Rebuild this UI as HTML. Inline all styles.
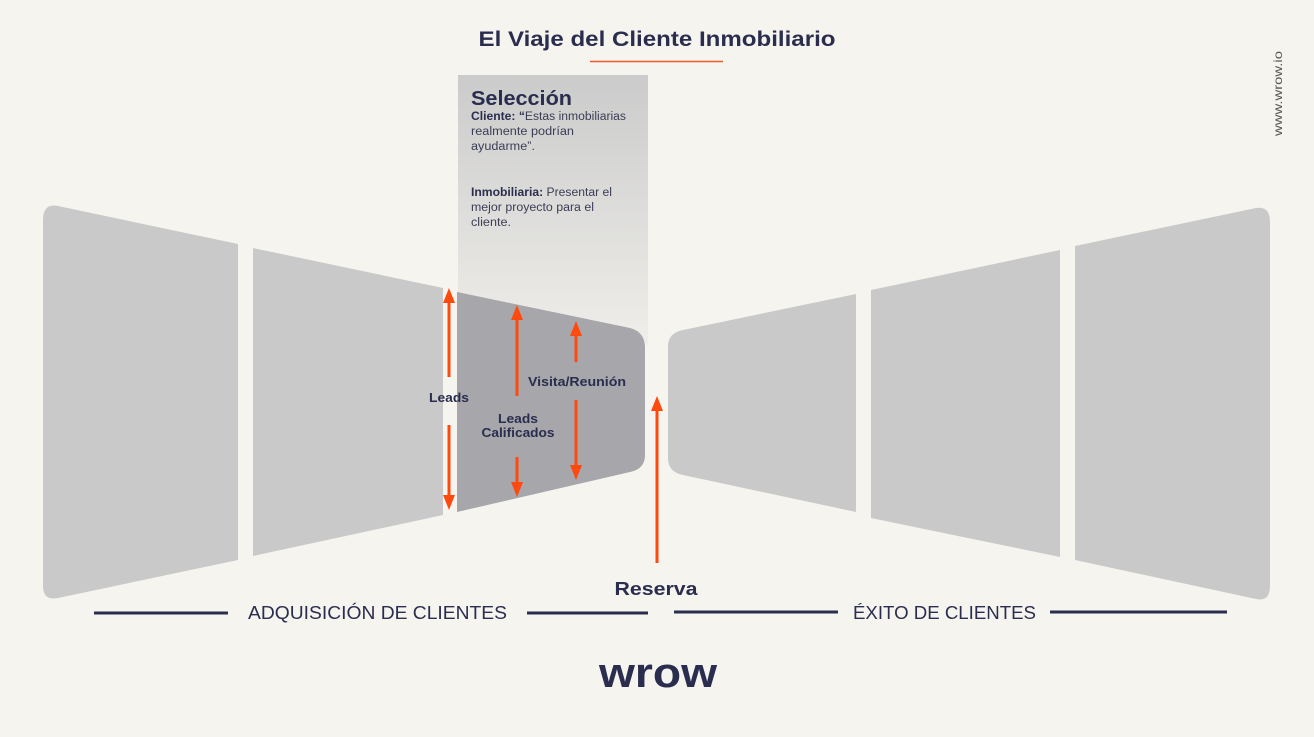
<!DOCTYPE html>
<html><head><meta charset="utf-8"><style>
html,body{margin:0;padding:0;background:#f5f4ef;}
svg{display:block;font-family:"Liberation Sans",sans-serif;}
</style></head><body>
<svg width="1314" height="737" viewBox="0 0 1314 737" xmlns="http://www.w3.org/2000/svg">
<defs>
<linearGradient id="g" x1="0" y1="0" x2="0" y2="1">
<stop offset="0" stop-color="#cbcbcb"/><stop offset="1" stop-color="#efeeea"/>
</linearGradient>
</defs>
<rect width="1314" height="737" fill="#f5f4ef"/>
<text x="657" y="46" text-anchor="middle" font-size="21" font-weight="bold" fill="#2a2d4e" textLength="357" lengthAdjust="spacingAndGlyphs">El Viaje del Cliente Inmobiliario</text>
<line x1="590" y1="61.5" x2="723" y2="61.5" stroke="#f0592a" stroke-width="1.5"/>
<text transform="translate(1282,136) rotate(-90)" font-size="12" fill="#555" textLength="85" lengthAdjust="spacingAndGlyphs">www.wrow.io</text>

<rect x="458" y="75" width="190" height="270" fill="url(#g)"/>
<text x="471" y="105" font-size="20" font-weight="bold" fill="#2a2d4e" textLength="101" lengthAdjust="spacingAndGlyphs">Selección</text>
<g font-size="11.5" fill="#3a3d55">
<text x="471" y="120" textLength="155" lengthAdjust="spacingAndGlyphs"><tspan font-weight="bold" fill="#2a2d4e">Cliente: “</tspan>Estas inmobiliarias</text>
<text x="471" y="135" textLength="103" lengthAdjust="spacingAndGlyphs">realmente podrían</text>
<text x="471" y="150" textLength="64" lengthAdjust="spacingAndGlyphs">ayudarme”.</text>
<text x="471" y="196" textLength="141" lengthAdjust="spacingAndGlyphs"><tspan font-weight="bold" fill="#2a2d4e">Inmobiliaria:</tspan> Presentar el</text>
<text x="471" y="211" textLength="123" lengthAdjust="spacingAndGlyphs">mejor proyecto para el</text>
<text x="471" y="226" textLength="40" lengthAdjust="spacingAndGlyphs">cliente.</text>
</g>

<path d="M58,206 L238,244 L238,560 L58,598 Q43,601 43,586 L43,220 Q43,203 58,206 Z" fill="#c9c9c9"/>
<path d="M253,248 L443,288 L443,515 L253,556 Z" fill="#c9c9c9"/>
<path d="M457,292 L630,328 Q645,332 645,348 L645,455 Q645,469 630,472 L457,512 Z" fill="#a6a6ab"/>
<path d="M683,330 L856,294 L856,512 L683,475 Q668,472 668,458 L668,346 Q668,333 683,330 Z" fill="#c9c9c9"/>
<path d="M871,290 L1060,250 L1060,557 L871,518 Z" fill="#c9c9c9"/>
<path d="M1075,246 L1256,208 Q1270,206 1270,222 L1270,586 Q1270,602 1256,599 L1075,560 Z" fill="#c9c9c9"/>

<g stroke="#ff4a0f" stroke-width="3" fill="none">
<line x1="449" y1="300" x2="449" y2="377"/>
<line x1="449" y1="425" x2="449" y2="498"/>
<line x1="517" y1="318" x2="517" y2="396"/>
<line x1="517" y1="457" x2="517" y2="486"/>
<line x1="576" y1="334" x2="576" y2="362"/>
<line x1="576" y1="400" x2="576" y2="468"/>
<line x1="657" y1="408" x2="657" y2="563"/>
</g>
<g fill="#ff4a0f">
<polygon points="449,288 443,303 455,303"/>
<polygon points="449,510 443,495 455,495"/>
<polygon points="517,305 511,320 523,320"/>
<polygon points="517,497 511,482 523,482"/>
<polygon points="576,321 570,336 582,336"/>
<polygon points="576,480 570,465 582,465"/>
<polygon points="657,396 651,411 663,411"/>
</g>
<g font-size="12.5" font-weight="bold" fill="#2a2d4e" text-anchor="middle">
<text x="449" y="402" textLength="40" lengthAdjust="spacingAndGlyphs">Leads</text>
<text x="518" y="423" textLength="40" lengthAdjust="spacingAndGlyphs">Leads</text>
<text x="518" y="437" textLength="73" lengthAdjust="spacingAndGlyphs">Calificados</text>
<text x="577" y="386" textLength="98" lengthAdjust="spacingAndGlyphs">Visita/Reunión</text>
</g>
<text x="656" y="595" text-anchor="middle" font-size="18" font-weight="bold" fill="#2a2d4e" textLength="83" lengthAdjust="spacingAndGlyphs">Reserva</text>

<g stroke="#2a2d4e" stroke-width="3">
<line x1="94" y1="613" x2="228" y2="613"/>
<line x1="527" y1="613" x2="648" y2="613"/>
<line x1="674" y1="612" x2="838" y2="612"/>
<line x1="1050" y1="612" x2="1227" y2="612"/>
</g>
<text x="248" y="619" font-size="18" fill="#2a2d4e" textLength="259" lengthAdjust="spacingAndGlyphs">ADQUISICIÓN DE CLIENTES</text>
<text x="853" y="619" font-size="18" fill="#2a2d4e" textLength="183" lengthAdjust="spacingAndGlyphs">ÉXITO DE CLIENTES</text>
<text x="658" y="687" text-anchor="middle" font-size="42" font-weight="bold" fill="#2a2d4e" textLength="118" lengthAdjust="spacingAndGlyphs">wrow</text>
</svg>
</body></html>
